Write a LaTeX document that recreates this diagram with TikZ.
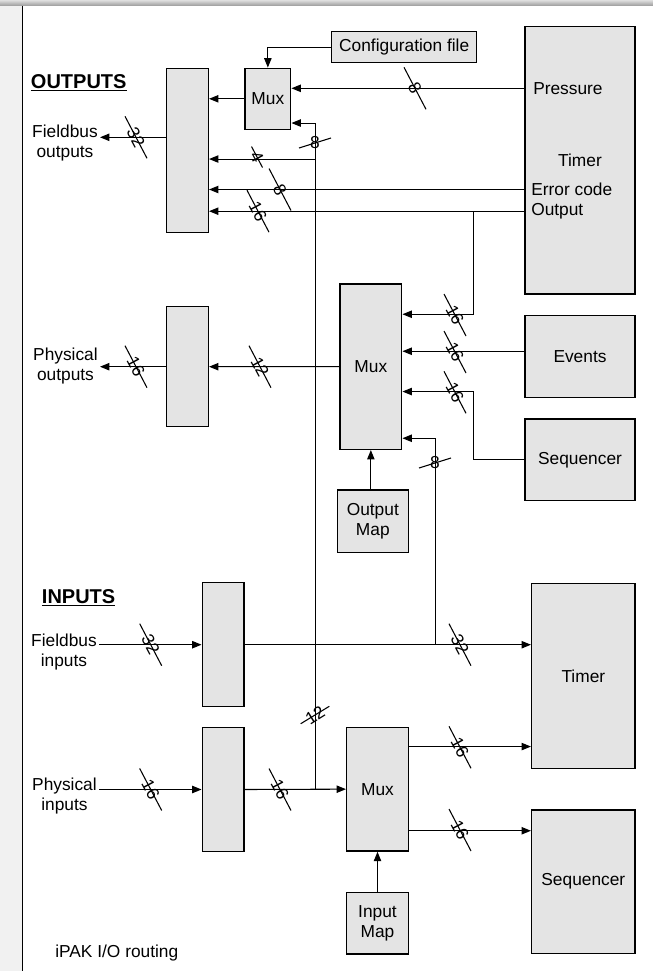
\documentclass[tikz,border=0pt]{standalone}
\usepackage{fontspec}
\setmainfont{Liberation Sans}
\usepackage{tikz}
\usetikzlibrary{arrows.meta,calc}
\definecolor{boxgrey}{RGB}{228,228,228}
\definecolor{stripgrey}{RGB}{241,241,241}
\newcommand\txtfont{\fontsize{13}{15}\selectfont}
\tikzset{
  blk/.style={draw=black,fill=boxgrey,line width=1.1pt,align=center,
              inner sep=0pt,font=\txtfont},
  txt/.style={align=center,inner sep=1.5pt,font=\txtfont},
  hd/.style={anchor=base west,inner sep=0pt,font=\fontsize{15}{17}\selectfont\bfseries},
  wire/.style={line width=0.8pt},
  flow/.style={wire,->},
  bwl/.style={inner sep=0pt,font=\txtfont},
  pics/hbus/.style={code={
    \draw[wire] (-11,-21) -- (11,21);
    \node[bwl,rotate=-62] {#1};}},
  pics/vbus/.style 2 args={code={
    \draw[wire] (-16,5) -- (16,-5);
    \node[bwl,rotate=#2] {#1};}},
}

\begin{document}
\begin{tikzpicture}[x=0.75pt,y=-0.75pt,>={Triangle[length=7pt,width=5.5pt]}]
  \useasboundingbox (0,0) rectangle (653,971);
  % page frame
  \fill[stripgrey] (0,0) rectangle (22,971);
  \shade[top color=gray!25,bottom color=gray!75] (0,0) rectangle (653,5.5);
  \draw[wire] (22.5,5.5) -- (22.5,971);

  % outputs side
  \node[hd] (outh) at (30.7,88) {\underline{OUTPUTS}};
  \node[blk,minimum width=108.75pt,minimum height=23.25pt] (cfg) at (404.2,47.2) {Configuration file};
  \node[blk,minimum width=82.5pt,minimum height=200.5pt] (tmr1) at (580,160.35) {Timer};
  \node[txt,anchor=west,inner sep=0pt] (pres) at (533,88.3) {Pressure};
  \node[txt,anchor=west,inner sep=0pt] (errc) at (531,189.5) {Error code};
  \node[txt,anchor=west,inner sep=0pt] (outp) at (531,211.2) {Output};
  \node[blk,minimum width=34.3pt,minimum height=45.75pt] (mux1) at (267.85,98.8) {Mux};
  \node[blk,minimum width=31.2pt,minimum height=123.3pt] (fbo) at (187.5,150.5) {};
  \node[txt,anchor=east] (fbout) at (100,143) {Fieldbus\\outputs};

  \node[blk,minimum width=46.3pt,minimum height=124pt] (mux2) at (370.85,366.65) {Mux};
  \node[blk,minimum width=31.2pt,minimum height=90pt] (pho) at (187.5,366.7) {};
  \node[txt,anchor=east] (phout) at (100,366) {Physical\\outputs};
  \node[blk,minimum width=82.5pt,minimum height=61.2pt] (events) at (580,356.5) {Events};
  \node[blk,minimum width=82.5pt,minimum height=61.3pt] (seq1) at (580,459.85) {Sequencer};
  \node[blk,minimum width=53.25pt,minimum height=46.7pt] (omap) at (372.8,521.15) {Output\\Map};

  % inputs side
  \node[hd] (inh) at (41.7,603.3) {\underline{INPUTS}};
  \node[blk,minimum width=31.3pt,minimum height=93pt] (fbi) at (223.15,644.7) {};
  \node[txt,anchor=east] (fbin) at (99,651.7) {Fieldbus\\inputs};
  \node[blk,minimum width=77.5pt,minimum height=138.75pt] (tmr2) at (583.35,675.8) {Timer};
  \node[blk,minimum width=31.3pt,minimum height=93.3pt] (phi) at (223.15,789.5) {};
  \node[txt,anchor=east] (phin) at (99,796.3) {Physical\\inputs};
  \node[blk,minimum width=46.2pt,minimum height=92.8pt] (mux3) at (377.5,789.15) {Mux};
  \node[blk,minimum width=77.5pt,minimum height=107.5pt] (seq2) at (583.35,881.65) {Sequencer};
  \node[blk,minimum width=46.2pt,minimum height=46.3pt] (imap) at (377.5,923.15) {Input\\Map};
  \node[txt,anchor=base west,inner sep=0pt] (cap) at (55,957.5) {iPAK I/O routing};

  % junctions
  \coordinate (tap) at ($(phi.east)!0.7!(mux3.west)$);
  \coordinate (m1b) at ($(mux1.south east)+(0,-7)$);
  \coordinate (b4) at ($(tap |- mux1.south)+(0,29)$);
  \coordinate (outj) at ($(tmr1.west |- outp)+(-51,0)$);
  \coordinate (m2a) at ($(mux2.north east)+(0,31)$);
  \coordinate (m2b) at ($(mux2.north east)+(0,68)$);
  \coordinate (m2c) at ($(mux2.north east)+(0,108.3)$);
  \coordinate (m2d) at ($(mux2.north east)+(0,155)$);
  \coordinate (fbj) at ($(mux2.east)+(33.3,0)$);
  \coordinate (m3a) at ($(mux3.north east)+(0,20)$);
  \coordinate (m3b) at ($(mux3.south east)+(0,-21)$);

  % output connectors
  \draw[flow] (cfg.west) -| (mux1.north);
  \draw[flow] (tmr1.west |- pres) -- (mux1.east |- pres);
  \draw[flow] (mux1.west) -- (fbo.east |- mux1.west);
  \draw[flow] (tap) |- (m1b);
  \draw[flow] (b4) -- (fbo.east |- b4);
  \draw[flow] (tmr1.west |- errc) -- (fbo.east |- errc);
  \draw[flow] (tmr1.west |- outp) -- (fbo.east |- outp);
  \draw[flow] ([yshift=9.9pt]fbo.west) coordinate (fbo-o) -- (fbout.east |- fbo-o);
  \draw[flow] (mux2.west) -- (pho.east);
  \draw[flow] (pho.west) -- (phout.east |- pho.west);
  \draw[flow] (outj) |- (m2a);
  \draw[flow] (events.west |- m2b) -- (m2b);
  \draw[flow] (seq1.west) -| (outj |- m2c) -- (m2c);
  \draw[flow] (fbj |- fbi.east) |- (m2d);
  \draw[flow] (mux2.south |- omap.north) -- (mux2.south);

  % input connectors
  \draw[flow] (fbin.east |- fbi.west) -- (fbi.west);
  \draw[flow] (fbi.east) -- (tmr2.west |- fbi.east);
  \draw[flow] (phin.east |- phi.west) -- (phi.west);
  \draw[flow] (phi.east) -- (mux3.west);
  \draw[flow] (m3a) -- (tmr2.west |- m3a);
  \draw[flow] (m3b) -- (seq2.west |- m3b);
  \draw[flow] (imap.north) -- (mux3.south);

  % bus widths
  \pic at (136,137.3) {hbus=32};
  \pic at (415,88.3) {hbus=8};
  \pic[scale=0.5] at (257,157) {hbus=4};
  \pic at (280,189.5) {hbus=8};
  \pic at (258,211.2) {hbus=16};
  \pic at (136,366.7) {hbus=16};
  \pic at (260,366.7) {hbus=12};
  \pic at (455,315) {hbus=16};
  \pic at (455,352) {hbus=16};
  \pic at (455,392.3) {hbus=16};
  \pic at (150.7,644.7) {hbus=32};
  \pic at (460,644.7) {hbus=32};
  \pic at (150.7,789.5) {hbus=16};
  \pic at (280,789.5) {hbus=16};
  \pic at (460,747.3) {hbus=16};
  \pic at (460,830) {hbus=16};
  \pic at (315,143) {vbus={8}{0}};
  \pic at (435,463) {vbus={8}{0}};
  \pic[rotate=14] at (315,715) {vbus={12}{32}};
\end{tikzpicture}
\end{document}
